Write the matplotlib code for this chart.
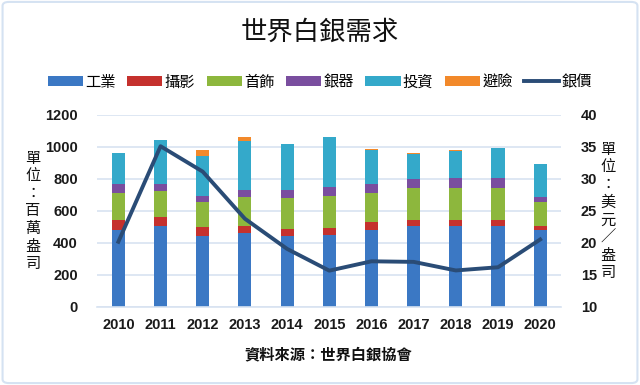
import matplotlib
matplotlib.use("Agg")
import matplotlib.pyplot as plt
import numpy as np
from matplotlib.patches import FancyBboxPatch, Patch
from matplotlib.lines import Line2D

plt.rcParams['font.family'] = ['Noto Sans CJK TC', 'DejaVu Sans']

years = ['2010', '2011', '2012', '2013', '2014', '2015', '2016', '2017', '2018', '2019', '2020']
industrial = [481, 506, 446, 460, 446, 452, 483, 508, 504, 508, 483]
photography = [64, 58, 52, 44, 42, 42, 46, 38, 40, 36, 25]
jewelry = [170, 162, 159, 186, 196, 201, 182, 197, 199, 199, 149]
silverware = [53, 45, 38, 42, 46, 58, 57, 56, 62, 62, 32]
investment = [192, 270, 249, 305, 286, 309, 211, 155, 170, 186, 203]
hedging = [0, 0, 35, 25, 0, 0, 8, 6, 6, 0, 0]
price = [20.19, 35.12, 31.15, 23.79, 19.08, 15.68, 17.14, 17.05, 15.71, 16.21, 20.55]

series_names = ['工業', '攝影', '首飾', '銀器', '投資', '避險']
colors = ['#3B78C4', '#C5312D', '#8DB73D', '#7A4E9F', '#34A9CA', '#F2892A']
line_color = '#2A4C76'
grid_color = '#D8E3F1'

fig = plt.figure(figsize=(6.4, 3.85), dpi=100)
ax = fig.add_axes([0.152, 0.2026, 0.725, 0.4987])

x = np.arange(len(years))
w = 0.31
bottom = np.zeros(len(years))
for vals, c in zip([industrial, photography, jewelry, silverware, investment, hedging], colors):
    v = np.array(vals, dtype=float)
    ax.bar(x, v, w, bottom=bottom, color=c, zorder=2, linewidth=0)
    bottom += v

ax.set_xlim(-0.5, len(years) - 0.5)
ax.set_ylim(0, 1200)
ax.set_yticks(np.arange(0, 1201, 200))
ax.set_xticks(x)
ax.set_xticklabels(years)
ax.grid(axis='y', color=grid_color, linewidth=1.2, zorder=0)
for s in ['top', 'left', 'right']:
    ax.spines[s].set_visible(False)
ax.spines['bottom'].set_color(grid_color)
ax.spines['bottom'].set_linewidth(1.2)
ax.tick_params(axis='both', length=0)
ax.tick_params(axis='y', pad=14)
ax.tick_params(axis='x', pad=8)
for lab in ax.get_xticklabels() + ax.get_yticklabels():
    lab.set_fontfamily(['Liberation Sans', 'DejaVu Sans'])
    lab.set_fontweight('bold')
    lab.set_fontsize(10.5)
    lab.set_color('#1a1a1a')

ax2 = ax.twinx()
ax2.plot(x, price, color=line_color, linewidth=2.8, zorder=5, solid_joinstyle='round')
ax2.set_ylim(10, 40)
ax2.set_yticks(np.arange(10, 41, 5))
for s in ['top', 'left', 'right', 'bottom']:
    ax2.spines[s].set_visible(False)
ax2.tick_params(axis='y', length=0, pad=14)
for lab in ax2.get_yticklabels():
    lab.set_fontfamily(['Liberation Sans', 'DejaVu Sans'])
    lab.set_fontweight('bold')
    lab.set_fontsize(10.5)
    lab.set_color('#1a1a1a')

fig.text(0.5, 0.915, '世界白銀需求', ha='center', va='center', fontsize=19, color='#111111')

fig.text(33 / 640, 1 - 211 / 385, '單\n位\n：\n百\n萬\n盎\n司', ha='center', va='center',
         fontsize=11, linespacing=1.05, color='#111111')
fig.text(608 / 640, 1 - 211 / 385, '單\n位\n：\n美\n元\n／\n盎\n司', ha='center', va='center',
         fontsize=11, linespacing=1.05, color='#111111')

fig.text(328 / 640, 1 - 354 / 385, '資料來源：世界白銀協會', ha='center', va='center',
         fontsize=11, fontweight='bold', color='#111111')

handles = [Patch(facecolor=c, edgecolor='none') for c in colors]
handles.append(Line2D([0], [0], color=line_color, linewidth=2.8))
labels = series_names + ['銀價']
fig.legend(handles, labels, loc='center', bbox_to_anchor=(0.5, 1 - 82 / 385), ncol=7,
           frameon=False, fontsize=11, handlelength=2.3, handleheight=0.55,
           handletextpad=0.15, columnspacing=0.75)

border = FancyBboxPatch((0.004, 0.005), 0.992, 0.99, boxstyle='round,pad=0,rounding_size=0.01',
                        transform=fig.transFigure, facecolor='none', edgecolor='#D5E2F2',
                        linewidth=1.5)
fig.patches.append(border)

fig.savefig('out.png', dpi=100)
